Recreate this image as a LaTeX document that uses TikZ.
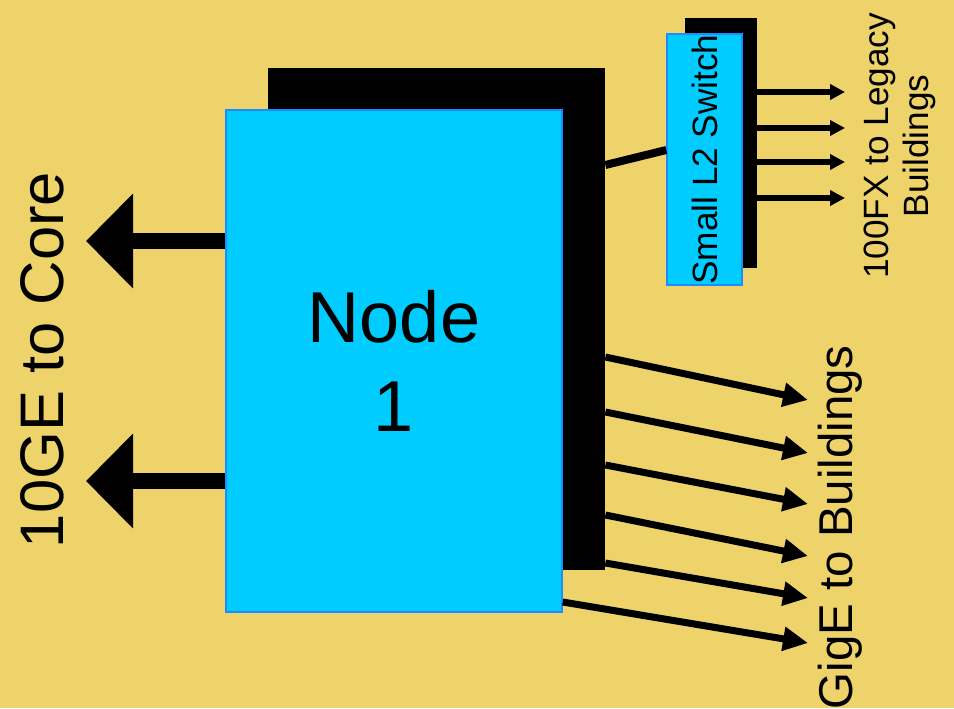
\documentclass[tikz,border=0pt]{standalone}
\usepackage{fontspec}
\setmainfont{Liberation Sans}
\usetikzlibrary{arrows.meta}
\definecolor{slidebg}{HTML}{EED36B}
\definecolor{boxcyan}{HTML}{00CCFF}
\definecolor{boxedge}{HTML}{1E8CFF}

\begin{document}
\begin{tikzpicture}[
    shadowbox/.style={fill=black, inner sep=0pt},
    cyanbox/.style={fill=boxcyan, draw=boxedge, line width=0.8pt, inner sep=0pt},
    corearrow/.style={line width=0.32cm, -{Triangle[length=0.94cm,width=1.84cm]}},
    fxarrow/.style={line width=0.12cm, -{Triangle[length=0.30cm,width=0.30cm]}},
    gigarrow/.style={line width=0.14cm, -{Triangle[length=0.50cm,width=0.46cm]}}
  ]
    \fill[slidebg] (0,0) rectangle (19.08,14.16);
    \useasboundingbox (0,0) rectangle (19.08,14.16);

    \node[shadowbox, minimum width=6.74cm, minimum height=10.04cm] (node1sh) at (8.73,7.78) {};
    \node[shadowbox, minimum width=1.44cm, minimum height=5.00cm] (l2swsh) at (14.42,11.30) {};
    \node[cyanbox, rotate=90, minimum width=5.02cm, minimum height=1.50cm,
      font=\fontsize{20}{22}\selectfont] (l2sw) at (14.09,10.97) {Small L2 Switch};
    \draw[line width=0.16cm] ([yshift=3.08cm]node1sh.east) -- ([yshift=0.19cm]l2sw.north);
    \node[cyanbox, minimum width=6.72cm, minimum height=10.04cm, align=center,
      font=\fontsize{41}{51}\selectfont] (node1) at (7.88,6.94) {Node\\1};

    % uplinks
    \coordinate (core1) at (1.72,9.34);
    \coordinate (core2) at (1.72,4.54);
    \draw[corearrow] (node1.west |- core1) -- (core1);
    \draw[corearrow] (node1.west |- core2) -- (core2);
    \node[rotate=90, font=\fontsize{35}{42}\selectfont] (corelbl) at (0.85,6.96) {10GE to Core};

    % legacy side
    \foreach \i/\y in {1/12.32, 2/11.60, 3/10.92, 4/10.20} {
      \coordinate (fx\i) at (16.90,\y);
      \draw[fxarrow] (l2swsh.east |- fx\i) -- (fx\i);
    }
    \node[rotate=90, align=center, font=\fontsize{20}{22.5}\selectfont] (fxlbl) at (18.00,11.24)
      {100FX to Legacy\\Buildings};

    % building links
    \foreach \i/\dy/\y in {1/-0.76/6.16, 2/-1.86/5.10, 3/-2.92/4.08, 4/-3.92/3.04, 5/-4.88/2.20} {
      \coordinate (gig\i) at (16.16,\y);
      \draw[gigarrow] ([yshift=\dy cm]node1sh.east) -- (gig\i);
    }
    \coordinate (gig6) at (16.16,1.30);
    \draw[gigarrow] ([yshift=-4.82cm]node1.east) -- (gig6);
    \node[rotate=90, anchor=east, inner sep=0pt, font=\fontsize{27}{32}\selectfont] (giglbl)
      at (16.80,7.26) {GigE to Buildings};
  \end{tikzpicture}
\end{document}
